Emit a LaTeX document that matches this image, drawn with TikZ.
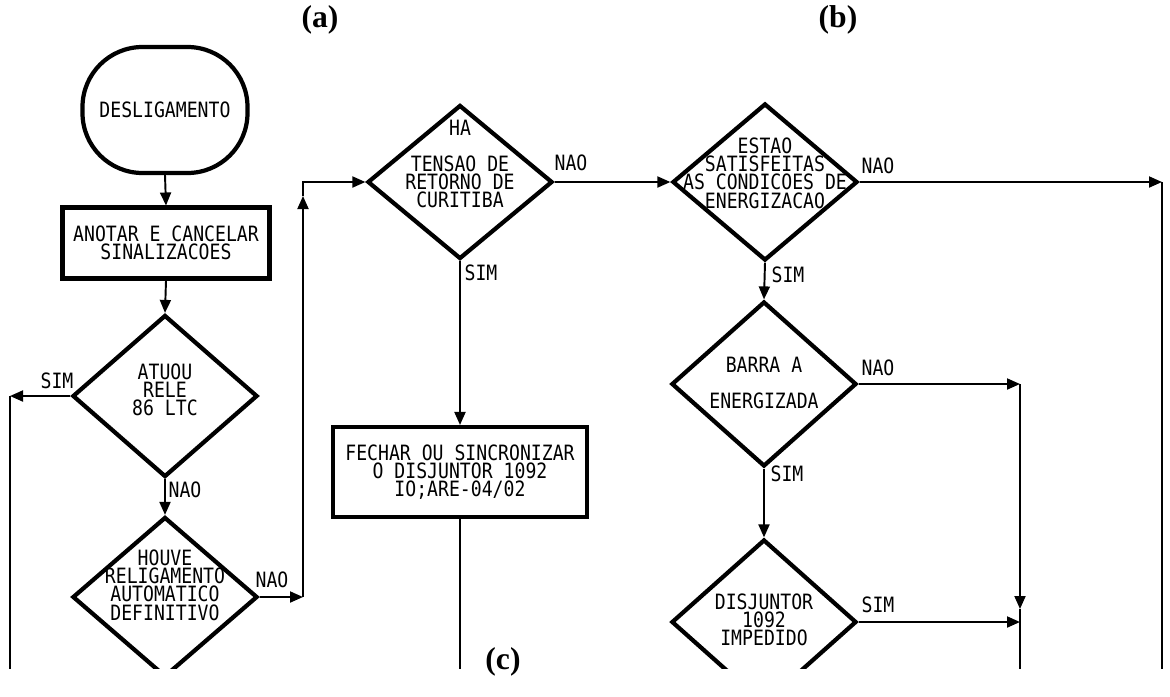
\documentclass[tikz,border=0pt]{standalone}
\usepackage{fontspec}
\setmainfont{Liberation Serif}
\newfontfamily\dotfont[FakeStretch=0.86]{DejaVu Sans Mono}
\usetikzlibrary{arrows.meta,positioning,calc,shapes.geometric}

\begin{document}
\begin{tikzpicture}[
  x=0.2mm, y=-0.2mm,
  font=\dotfont\fontsize{12}{10.4}\selectfont,
  >={Triangle[length=2.6mm,width=2.2mm]},
  term/.style={draw, line width=2.4pt, rounded corners=12mm, minimum width=33mm, minimum height=25.2mm, inner sep=0pt},
  proc/.style={draw, line width=2.3pt, align=center, inner sep=0pt},
  decision/.style={draw, diamond, line width=2.4pt, inner sep=0pt, minimum width=37mm, minimum height=#1},
  dtext/.style={align=center, inner sep=0pt},
  lbl/.style={inner sep=1pt},
  conn/.style={line width=1.1pt},
  tag/.style={font=\rmfamily\bfseries\fontsize{18}{20}\selectfont}
]

% Frame
\useasboundingbox (0,0) rectangle (1170,696);

\begin{scope}
\clip (0,0) rectangle (1170,668);

% Column (a)
\node[term] (t1) at (165,110) {DESLIGAMENTO};
\node[proc, minimum width=41.4mm, minimum height=14.2mm] (p1) at (166,243) {ANOTAR E CANCELAR\\SINALIZACOES};
\node[decision=32.4mm] (d1) at (165,396) {};
\node[dtext] (x1) at (165,390) {ATUOU\\RELE\\86 LTC};
\node[decision=32mm] (d2) at (165,597) {};
\node[dtext] (x2) at (165,585) {HOUVE\\RELIGAMENTO\\AUTOMATICO\\DEFINITIVO};

% Column (c)
\node[decision=30.8mm] (d3) at (460,182) {};
\node[dtext] (x3) at (460,164) {HA\\[10pt]TENSAO DE\\RETORNO DE\\CURITIBA};
\node[proc, minimum width=50.8mm, minimum height=18mm] (p2) at (460,472) {FECHAR OU SINCRONIZAR\\O DISJUNTOR 1092\\IO;ARE-04/02};

% Column (b)
\node[decision=31.4mm] (d4) at (765,182) {};
\node[dtext] (x4) at (765,173) {ESTAO\\SATISFEITAS\\AS CONDICOES DE\\ENERGIZACAO};
\node[decision=33mm] (d5) at (764,384) {};
\node[dtext] (x5) at (764,383) {BARRA A\\[10pt]ENERGIZADA};
\node[decision=33mm] (d6) at (764,622) {};
\node[dtext] (x6) at (764,620) {DISJUNTOR\\1092\\IMPEDIDO};

% Bends and free ends
\coordinate (k1) at (10,396);
\coordinate (k1e) at (10,690);
\coordinate (k2) at (303,597);
\coordinate (k2m) at (303,196);
\coordinate (k2t) at (303,182);
\coordinate (k3e) at (460,690);
\coordinate (k4) at (1162,182);
\coordinate (k4e) at (1162,690);
\coordinate (k5) at (1020,384);
\coordinate (k5m) at (1020,609);
\coordinate (k5e) at (1020,690);
\coordinate (k6) at (1020,622);

% Connectors
\draw[conn,->] (t1.south) -- (p1.north);
\draw[conn,->] (p1.south) -- (d1.north);
\draw[conn,->] (d1.west) -- (k1);
\draw[conn] (k1) -- (k1e);
\draw[conn,->] (d1.south) -- (d2.north);
\draw[conn,->] (d2.east) -- (k2);
\draw[conn,->] (k2) -- (k2m);
\draw[conn,->] (k2m) -- (k2t) -- (d3.west);
\draw[conn,->] (d3.south) -- (p2.north);
\draw[conn] (p2.south) -- (k3e);
\draw[conn,->] (d3.east) -- (d4.west);
\draw[conn,->] (d4.east) -- (k4);
\draw[conn] (k4) -- (k4e);
\draw[conn,->] (d4.south) -- (d5.north);
\draw[conn,->] (d5.east) -- (k5);
\draw[conn,->] (k5) -- (k5m);
\draw[conn] (k5m) -- (k5e);
\draw[conn,->] (d5.south) -- (d6.north);
\draw[conn,->] (d6.east) -- (k6);

% Branch labels
\node[lbl] (l1) at (57,381) {SIM};
\node[lbl] (l2) at (185,490) {NAO};
\node[lbl] (l3) at (272,580) {NAO};
\node[lbl] (l4) at (571,163) {NAO};
\node[lbl] (l5) at (481,273) {SIM};
\node[lbl] (l6) at (878,166) {NAO};
\node[lbl] (l7) at (788,275) {SIM};
\node[lbl] (l8) at (878,368) {NAO};
\node[lbl] (l9) at (787,474) {SIM};
\node[lbl] (l10) at (878,605) {SIM};
\end{scope}

% Panel tags
\node[tag] (ta) at (320,20) {(a)};
\node[tag] (tb) at (838,20) {(b)};
\node[tag] (tc) at (503,662) {(c)};

\end{tikzpicture}
\end{document}
